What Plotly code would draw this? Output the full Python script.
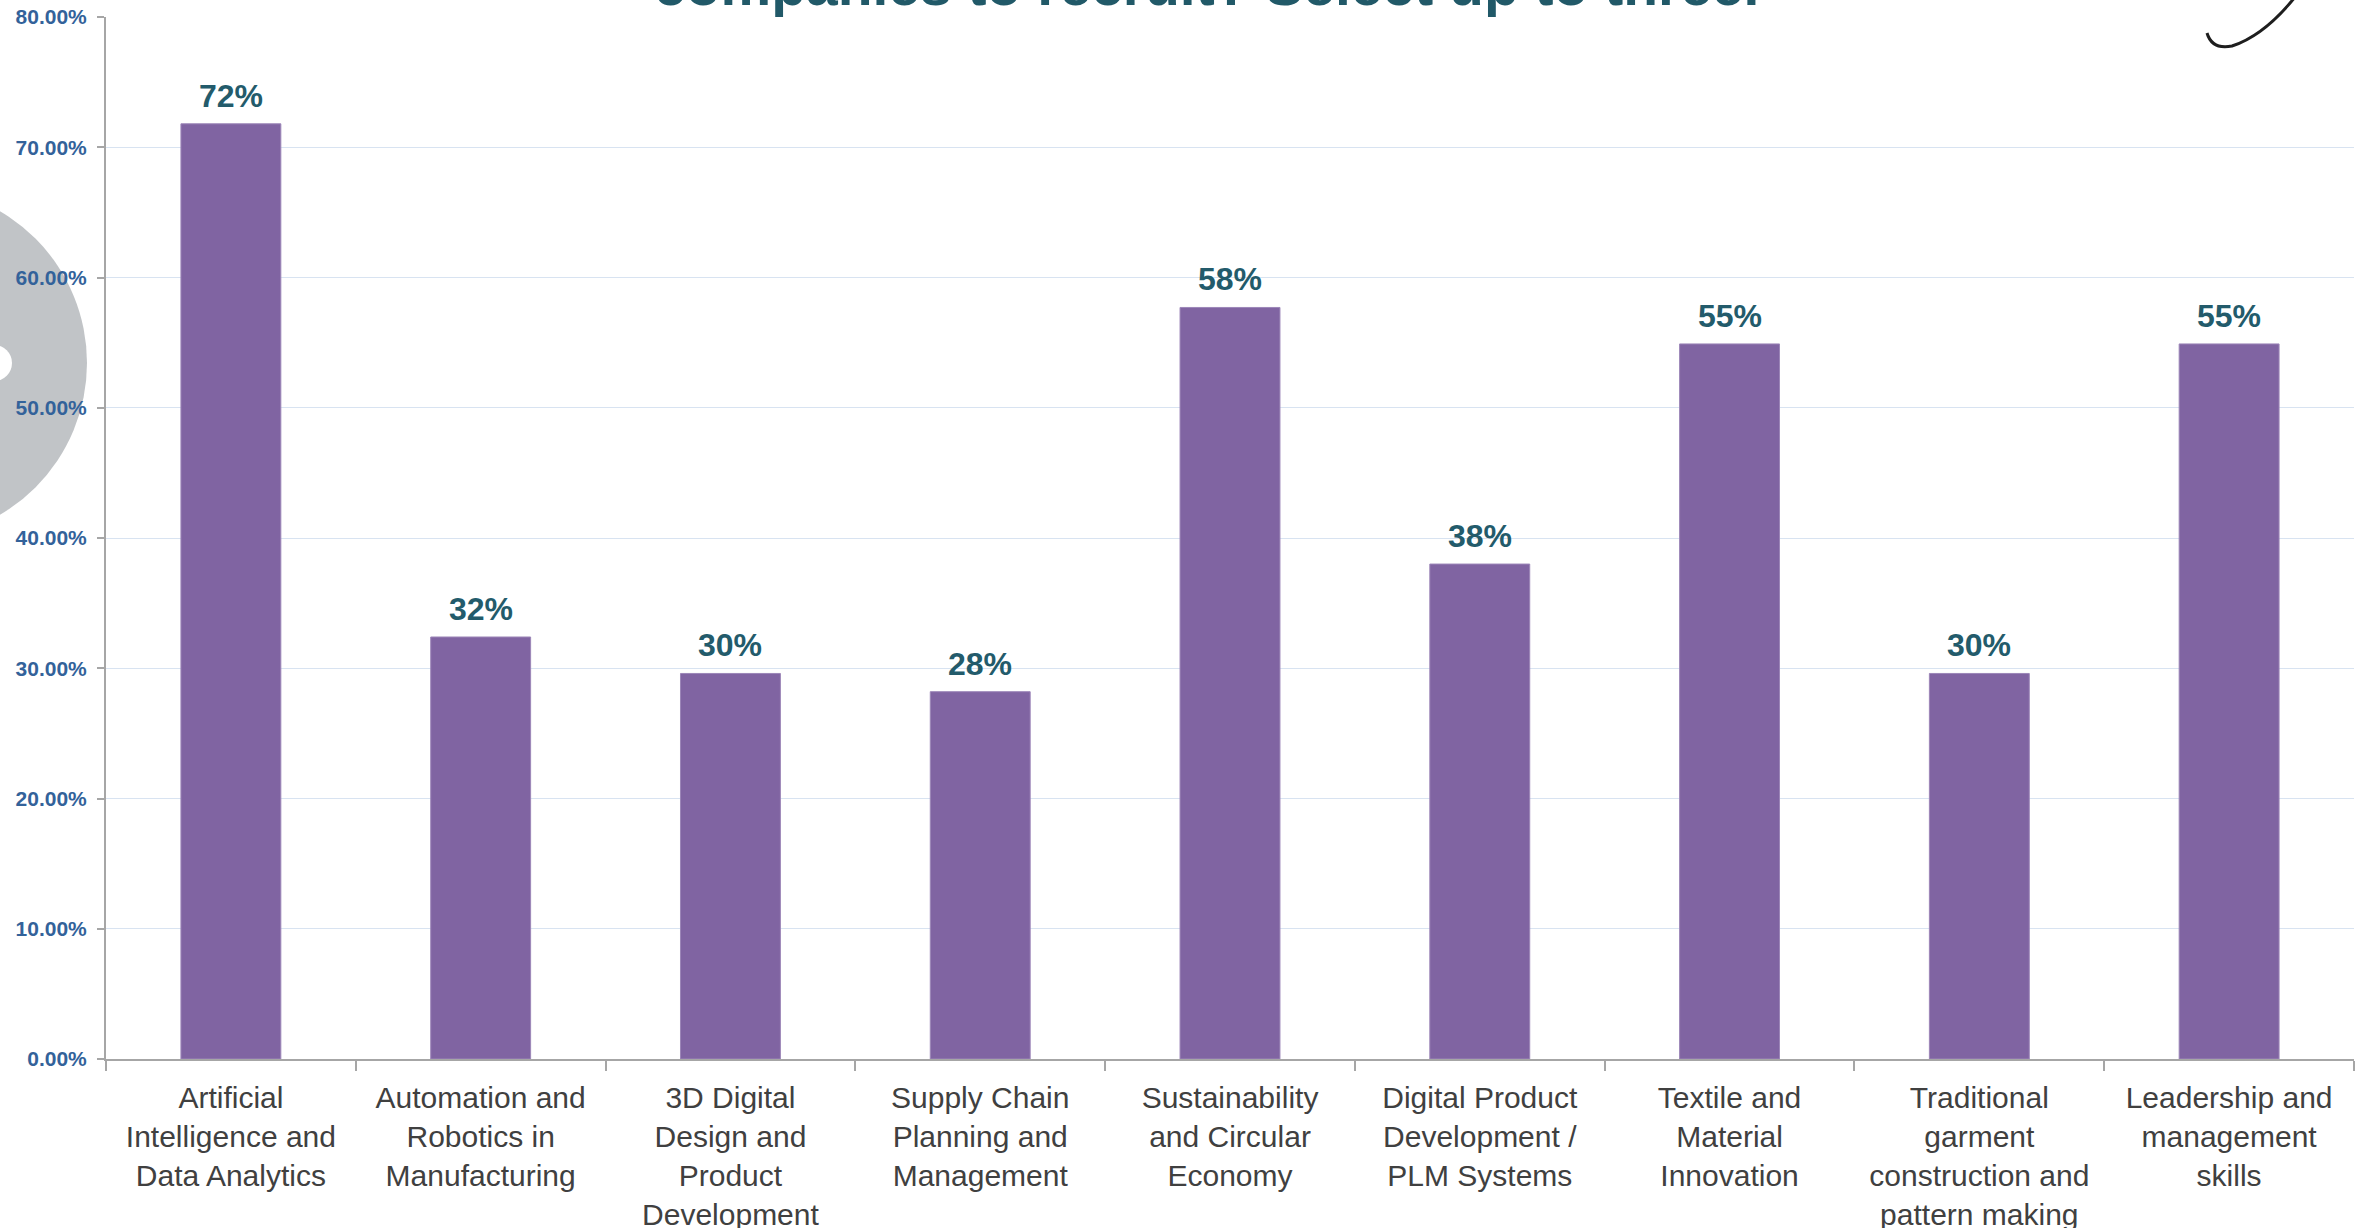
import plotly.graph_objects as go

# Skills companies find hardest to recruit (share of respondents, %)
categories = [
    "Artificial<br>Intelligence and<br>Data Analytics",
    "Automation and<br>Robotics in<br>Manufacturing",
    "3D Digital<br>Design and<br>Product<br>Development",
    "Supply Chain<br>Planning and<br>Management",
    "Sustainability<br>and Circular<br>Economy",
    "Digital Product<br>Development /<br>PLM Systems",
    "Textile and<br>Material<br>Innovation",
    "Traditional<br>garment<br>construction and<br>pattern making",
    "Leadership and<br>management<br>skills",
]
shares = [71.8, 32.4, 29.6, 28.2, 57.7, 38.0, 54.9, 29.6, 54.9]
y_ticks = [0, 10, 20, 30, 40, 50, 60, 70, 80]
y_tick_labels = [f"{v:.2f}%" for v in y_ticks]
title_text = "companies to recruit? Select up to three."

W, H = 2369, 1228
ML, MR, MT, MB = 106, 15, 17, 169
PW, PH = W - ML - MR, H - MT - MB


def px_x(x):
    return (x - ML) / PW


def px_y(y):
    return (H - MB - y) / PH


FONT = "Liberation Sans, Arial, sans-serif"

fig = go.Figure(
    go.Bar(
        x=categories,
        y=shares,
        marker=dict(color="#8064a2", line=dict(color="#9c86b8", width=1)),
        hoverinfo="skip",
    )
)

# value labels above each bar
value_labels = [
    dict(x=c, y=v, text=f"{v:.0f}%", xref="x", yref="y",
         xanchor="center", yanchor="bottom", yshift=8, showarrow=False,
         font=dict(family=FONT, size=32, color="#235b6b", weight="bold"))
    for c, v in zip(categories, shares)
]

shapes = [
    # grey badge on the left edge
    dict(type="circle", xref="paper", yref="paper", layer="below",
         x0=px_x(-265), x1=px_x(87), y0=px_y(539), y1=px_y(187),
         fillcolor="#c1c4c7", line=dict(width=0)),
    dict(type="circle", xref="paper", yref="paper", layer="below",
         x0=px_x(-24), x1=px_x(12), y0=px_y(381), y1=px_y(345),
         fillcolor="white", line=dict(width=0)),
]

# signature swoosh in the top-right corner
pts = [(2207, 33), (2212, 50), (2232, 46), (2268, 34), (2302, -12)]
conv = [(px_x(a), px_y(b)) for a, b in pts]
path = "M {0},{1} Q {2},{3} {4},{5} Q {6},{7} {8},{9}".format(
    conv[0][0], conv[0][1], conv[1][0], conv[1][1], conv[2][0], conv[2][1],
    conv[3][0], conv[3][1], conv[4][0], conv[4][1])
shapes.append(dict(type="path", xref="paper", yref="paper", path=path,
                   line=dict(color="#1e1e1e", width=3)))

fig.update_layout(
    width=W, height=H,
    margin=dict(l=ML, r=MR, t=MT, b=MB, autoexpand=False),
    paper_bgcolor="white", plot_bgcolor="white",
    bargap=0.6,
    showlegend=False,
    shapes=shapes,
    annotations=value_labels + [
        dict(text=title_text, xref="paper", yref="paper",
             x=px_x(1206), y=px_y(-15), xanchor="center", yanchor="middle",
             showarrow=False,
             font=dict(family=FONT, size=57, color="#215968", weight="bold")),
    ],
)

fig.update_xaxes(
    automargin=False,
    showline=True, linecolor="#a6a6a6", linewidth=2,
    ticks="outside", tickson="boundaries", ticklen=10, tickcolor="#a6a6a6", tickwidth=2,
    tickfont=dict(family=FONT, size=30, color="#404040"),
    ticklabelstandoff=11,
    showgrid=False,
)
fig.update_yaxes(
    automargin=False,
    range=[0, 80], tickmode="array", tickvals=y_ticks, ticktext=y_tick_labels,
    showline=True, linecolor="#a6a6a6", linewidth=2,
    ticks="outside", ticklen=7, tickcolor="#a6a6a6", tickwidth=2,
    tickfont=dict(family=FONT, size=21, color="#33629a", weight="bold"),
    ticklabelstandoff=6,
    showgrid=True, gridcolor="#d8e3f1", gridwidth=1,
    zeroline=False,
)

fig.write_html("out.html")
